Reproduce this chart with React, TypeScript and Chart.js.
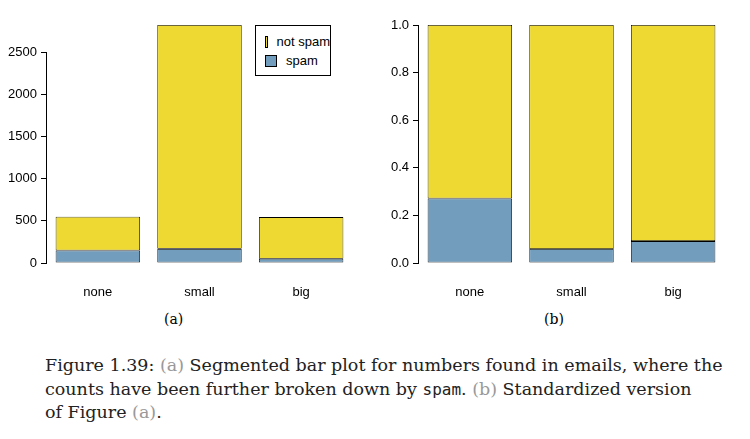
import React, { useEffect, useRef } from 'react';
import { Chart, registerables } from 'chart.js';

Chart.register(...registerables);

const categories = ['none', 'small', 'big'];
const spamCounts = [149, 168, 50];
const notSpamCounts = [400, 2659, 495];
const spamShare = [0.271, 0.059, 0.092];
const notSpamShare = [0.729, 0.941, 0.908];
const countTicks = [0, 500, 1000, 1500, 2000, 2500];
const shareTicks = [0, 0.2, 0.4, 0.6, 0.8, 1.0];

const YELLOW = '#EDD932';
const BLUE = '#729DBC';
const FONT = "'Liberation Sans', Arial, sans-serif";

// R-style y axis line, only from first to last tick
const axisLine = {
    id: 'axisLine',
    afterDraw(chart: any) {
        const y = chart.scales.y;
        const ticks = y.ticks;
        const ctx = chart.ctx;
        ctx.save();
        ctx.strokeStyle = '#000';
        ctx.lineWidth = 1;
        ctx.beginPath();
        ctx.moveTo(y.right - 0.5, y.getPixelForValue(ticks[0].value));
        ctx.lineTo(y.right - 0.5, y.getPixelForValue(ticks[ticks.length - 1].value));
        ctx.stroke();
        ctx.restore();
    },
};

function makeConfig(spam: number[], notSpam: number[], tickVals: number[], max: number, decimals: boolean): any {
    return {
        type: 'bar',
        data: {
            labels: categories,
            datasets: [
                { label: 'spam', data: spam, backgroundColor: BLUE, borderColor: '#000', borderWidth: 0.8, borderSkipped: false, barPercentage: 0.83, categoryPercentage: 1 },
                { label: 'not spam', data: notSpam, backgroundColor: YELLOW, borderColor: '#000', borderWidth: 0.8, borderSkipped: false, barPercentage: 0.83, categoryPercentage: 1 },
            ],
        },
        options: {
            animation: false,
            responsive: false,
            layout: { padding: { top: 25, right: 0 } },
            plugins: { legend: { display: false }, tooltip: { enabled: false } },
            scales: {
                x: {
                    stacked: true,
                    grid: { display: false },
                    border: { display: false },
                    ticks: { color: '#000', font: { family: FONT, size: 13 }, padding: 14 },
                    afterFit: (s: any) => { s.height = 37; },
                },
                y: {
                    stacked: true,
                    min: 0,
                    max,
                    afterBuildTicks: (s: any) => { s.ticks = tickVals.map((v) => ({ value: v })); },
                    grid: { drawOnChartArea: false, drawTicks: true, tickLength: 6, color: '#000' },
                    border: { display: false },
                    ticks: {
                        color: '#000',
                        font: { family: FONT, size: 13 },
                        padding: 4,
                        callback: (v: any) => (decimals ? Number(v).toFixed(1) : String(v)),
                    },
                    afterFit: (s: any) => { s.width = 47; },
                },
            },
        },
        plugins: [axisLine],
    };
}

const ChartCanvas: React.FC<{ config: () => any; left: number }> = ({ config, left }) => {
    const ref = useRef<HTMLCanvasElement>(null);
    useEffect(() => {
        if (!ref.current) return;
        const c = new Chart(ref.current, config());
        return () => c.destroy();
        // eslint-disable-next-line react-hooks/exhaustive-deps
    }, []);
    return <canvas ref={ref} width={352} height={300} style={{ position: 'absolute', left, top: 0 }} />;
};

const App: React.FC = () => {
    const serif = "'DejaVu Serif', 'Liberation Serif', serif";
    const gray = { color: '#999' };
    return (
        <div style={{ position: 'absolute', left: 0, top: 0, width: 750, height: 439, background: '#fff', fontFamily: serif }}>
            <ChartCanvas left={0} config={() => makeConfig(spamCounts, notSpamCounts, countTicks, 2827, false)} />
            <ChartCanvas left={372} config={() => makeConfig(spamShare, notSpamShare, shareTicks, 1.0, true)} />
            <div style={{ position: 'absolute', left: 255, top: 25, width: 76, height: 51, border: '1px solid #000', padding: '6px 0 0 9px', fontFamily: FONT, fontSize: 13, lineHeight: '19px', boxSizing: 'border-box', whiteSpace: 'nowrap', background: '#fff' }}>
                <div style={{ display: 'flex', alignItems: 'center' }}>
                    <span style={{ width: 10, height: 10, background: YELLOW, border: '1px solid #000', marginRight: 9 }} />not spam
                </div>
                <div style={{ display: 'flex', alignItems: 'center' }}>
                    <span style={{ width: 10, height: 10, background: BLUE, border: '1px solid #000', marginRight: 9 }} />spam
                </div>
            </div>
            <div style={{ position: 'absolute', left: 164, top: 311, fontSize: 14 }}>(a)</div>
            <div style={{ position: 'absolute', left: 544, top: 311, fontSize: 14 }}>(b)</div>
            <div style={{ position: 'absolute', left: 45, top: 354, width: 705, fontSize: 17.5, lineHeight: '23.5px', color: '#222', whiteSpace: 'nowrap' }}>
                Figure 1.39: <span style={gray}>(a)</span> Segmented bar plot for numbers found in emails, where the
                <br />counts have been further broken down by <span style={{ fontFamily: "'DejaVu Sans Mono', monospace", fontSize: 16 }}>spam</span>. <span style={gray}>(b)</span> Standardized version
                <br />of Figure <span style={gray}>(a)</span>.
            </div>
        </div>
    );
};

export default App;
